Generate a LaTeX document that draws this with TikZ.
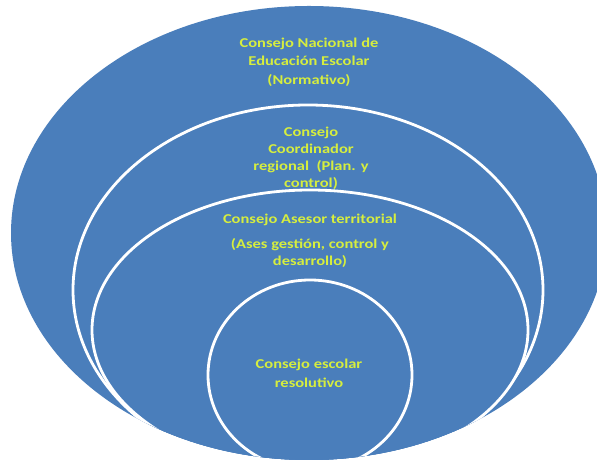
\documentclass[tikz,border=0pt]{standalone}
\usepackage{fontspec}
\setmainfont{Carlito}[FakeStretch=1.22]
\usepackage{tikz}
\usetikzlibrary{positioning}
\definecolor{azulcapa}{RGB}{74,126,187}
\definecolor{textocapa}{RGB}{214,238,62}
\tikzset{
  capa/.style={fill=azulcapa,draw=white,line width=2.8pt},
  rotulo/.style={text=textocapa,font=\bfseries\fontsize{13.5}{17}\selectfont,
                 align=center,inner sep=1pt},
}

\begin{document}
\begin{tikzpicture}[x=1pt,y=1pt]
  \useasboundingbox (0,0) rectangle (597,465);
  \fill[white] (0,0) rectangle (597,465);

  % nivel nacional
  \fill[azulcapa] (309,232) ellipse [x radius=298,y radius=227];
  \node[rotulo] (nacional) at (309,403)
    {Consejo Nacional de\\[1.5pt]Educación Escolar\\[1.5pt](Normativo)};

  \begin{scope}
    \clip (309,232) ellipse [x radius=298,y radius=227];
    % nivel regional
    \draw[capa] (308,175) ellipse [x radius=235,y radius=185];
    \node[rotulo] (regional) at (311,307)
      {Consejo\\Coordinador\\regional~ (Plan. y\\control)};
    % nivel territorial
    \draw[capa] (310,135) ellipse [x radius=218,y radius=140];
    \node[rotulo] (territorial) at (310,224)
      {Consejo Asesor territorial\\[8pt](Ases gestión, control y\\desarrollo)};
    % nivel escolar
    \draw[capa] (310,90) ellipse [x radius=102,y radius=95];
    \node[rotulo] (escolar) at (309,92) {Consejo escolar\\[2pt]resolutivo};
  \end{scope}
\end{tikzpicture}
\end{document}
